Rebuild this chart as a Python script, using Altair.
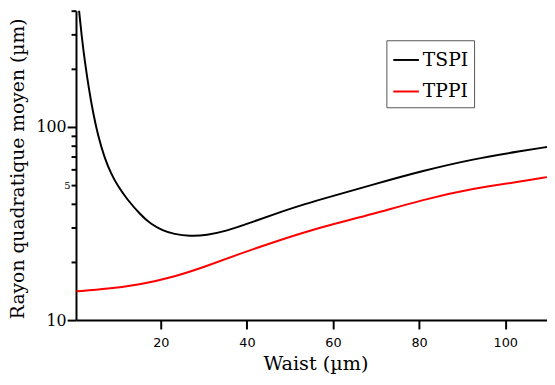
import altair as alt
import pandas as pd

# TSPI (black) curve
tspi_x = [1.0, 1.62, 2.38, 3.29, 4.28, 5.42, 6.95, 8.49, 10.0, 12.3, 15.35, 17.6, 20.5,
          23.0, 26.8, 30.6, 35.2, 39.7, 45.9, 53.5, 61.1, 68.7, 81.1, 92.5, 104.0, 109.7]
tspi_y = [403, 295, 216, 158, 118, 90, 69, 57, 49.5, 41.8, 35.0, 31.5, 29.0,
          27.9, 27.2, 27.5, 28.9, 31.3, 35.1, 40.0, 44.6, 49.9, 59.5, 68.2, 75.2, 78.8]

# TPPI (red) curve
tppi_x = [0.4, 7.7, 15.35, 23.0, 30.6, 38.2, 45.9, 53.5, 61.1, 68.7, 81.1, 92.5, 104.0, 109.7]
tppi_y = [14.1, 14.5, 15.3, 16.7, 19.0, 22.0, 25.2, 28.6, 31.9, 35.1, 42.2, 48.1, 52.3, 55.0]

series = ["TSPI", "TPPI"]
colors = ["black", "red"]
x_ticks = [20, 40, 60, 80, 100]
y_ticks = [10, 20, 30, 40, 50, 60, 70, 80, 90, 100, 200, 300, 400]

df = pd.concat([
    pd.DataFrame({"x": tspi_x, "y": tspi_y, "s": "TSPI", "o": range(len(tspi_x))}),
    pd.DataFrame({"x": tppi_x, "y": tppi_y, "s": "TPPI", "o": range(len(tppi_x))}),
])

serif = "DejaVu Serif"

chart = alt.Chart(df).mark_line(strokeWidth=2, interpolate="basis", clip=True).encode(
    x=alt.X("x:Q",
            scale=alt.Scale(domain=[0.3, 109.7], nice=False, zero=False),
            axis=alt.Axis(title="Waist (µm)", values=x_ticks, grid=False,
                          domainColor="black", domainWidth=2,
                          tickColor="black", tickWidth=2, tickSize=9,
                          labelFont="DejaVu Sans", labelFontSize=13, labelColor="black",
                          labelPadding=8, labelFlush=False,
                          titleFont=serif, titleFontSize=19.5, titleFontWeight="normal",
                          titleColor="black", titleBaseline="alphabetic",
                          titleX=243, titleY=50)),
    y=alt.Y("y:Q",
            scale=alt.Scale(type="log", domain=[10, 400], nice=False),
            axis=alt.Axis(title="Rayon quadratique moyen (µm)", values=y_ticks, grid=False,
                          domainColor="black", domainWidth=2,
                          tickColor="black", tickWidth=2,
                          tickSize={"condition": {"test": "datum.value == 10 || datum.value == 100", "value": 9}, "value": 5},
                          labelExpr="datum.value == 100 ? '100' : datum.value == 10 ? '10' : datum.value == 50 ? '5' : ''",
                          labelFont=serif,
                          labelFontSize={"condition": {"test": "datum.value == 50", "value": 10}, "value": 16},
                          labelColor="black", labelPadding=1,
                          titleFont=serif, titleFontSize=19, titleFontWeight="normal",
                          titleColor="black", titleBaseline="alphabetic",
                          titleX=-53, titleY=160, titleAngle=-90)),
    color=alt.Color("s:N", scale=alt.Scale(domain=series, range=colors),
                    legend=alt.Legend(title=None, orient="none", legendX=315, legendY=30,
                                      symbolType="stroke", symbolSize=676, symbolStrokeWidth=2,
                                      labelFont=serif, labelFontSize=19, labelColor="black",
                                      labelOffset=3, padding=6, rowPadding=8,
                                      strokeColor="#555555", fillColor="white")),
    order="o:Q",
).properties(
    width=478, height=314,
    autosize=alt.AutoSizeParams(type="none"),
    padding={"left": 69, "top": 0, "right": 0, "bottom": 55},
).configure_view(stroke=None)

chart.save("out.html", embed_options={"renderer": "svg", "actions": False})
